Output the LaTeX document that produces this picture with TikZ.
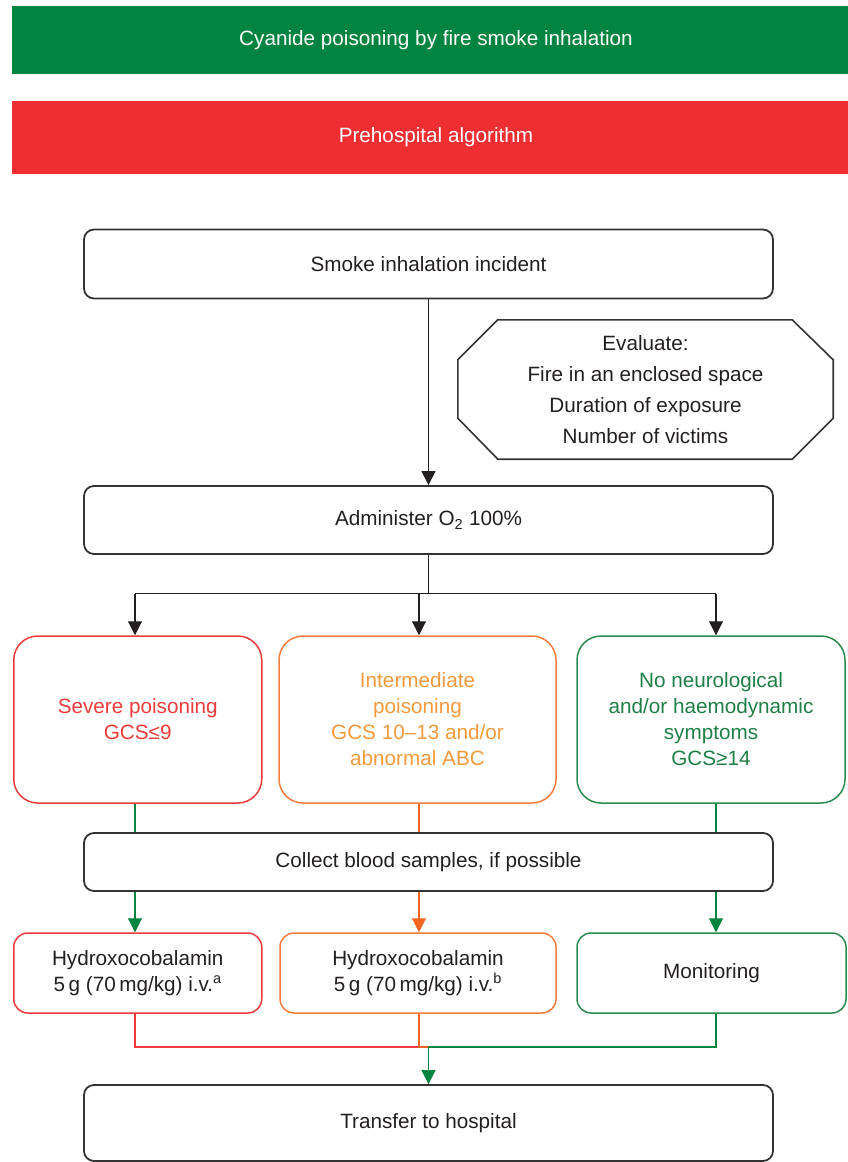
\documentclass[tikz,border=0pt]{standalone}
\usepackage{fontspec}
\setmainfont{Liberation Sans}
\usetikzlibrary{arrows.meta,calc}
\definecolor{bgreen}{HTML}{00843F}
\definecolor{bred}{HTML}{EE2E31}
\definecolor{rline}{HTML}{EE3B3B}
\definecolor{rtext}{HTML}{EE3B3B}
\definecolor{obox}{HTML}{F47D3E}
\definecolor{otext}{HTML}{F49A3C}
\definecolor{oline}{HTML}{F26522}
\definecolor{gbox}{HTML}{2B8A4E}
\definecolor{gtext}{HTML}{1F7F47}
\definecolor{gline}{HTML}{00843F}
\definecolor{boxgray}{HTML}{333333}
\definecolor{txt}{HTML}{231F20}
\tikzset{
  base/.style={font=\fontsize{20.7}{26}\selectfont, align=center, inner sep=0pt},
  banner/.style={base, minimum width=848pt, text=white},
  blackbox/.style={base, draw=boxgray, line width=1.8pt, rounded corners=10pt, text=txt},
  catbox/.style={base, line width=1.5pt, rounded corners=24pt, minimum width=248pt, minimum height=167pt},
  medbox/.style={base, line width=1.5pt, rounded corners=14pt, minimum width=248pt, minimum height=80pt},
  conn/.style={line width=1.1pt},
  tip/.style={-{Triangle[width=14pt,length=14pt]}},
}
\begin{document}
\begin{tikzpicture}[x=1pt,y=-1pt]
\useasboundingbox (0,0) rectangle (847,1162);
% banners
\node[banner, fill=bgreen, minimum height=68pt] (title) at (436,40) {Cyanide poisoning by fire smoke inhalation};
\node[banner, fill=bred, minimum height=73pt] (sub) at (436,137.5) {Prehospital algorithm};
% main boxes
\node[blackbox, minimum width=689pt, minimum height=69pt] (smoke) at (428.5,264) {Smoke inhalation incident};
\node[base, text=txt, minimum width=375pt, minimum height=139pt, font=\fontsize{20.7}{31}\selectfont] (eval) at (645.5,389.5)
  {Evaluate:\\Fire in an enclosed space\\Duration of exposure\\Number of victims};
\draw[draw=boxgray, line width=1.6pt]
  ([xshift=40pt]eval.north west) -- ([xshift=-41pt]eval.north east) -- ([yshift=-40pt]eval.north east)
  -- ([yshift=41pt]eval.south east) -- ([xshift=-41pt]eval.south east) -- ([xshift=40pt]eval.south west)
  -- ([yshift=41pt]eval.south west) -- ([yshift=-40pt]eval.north west) -- cycle;
\node[blackbox, minimum width=689pt, minimum height=68pt] (admin) at (428.5,520) {Administer O\textsubscript{2} 100\%};
% category boxes
\node[catbox, draw=rline, text=rtext] (severe) at (137.75,719.5) {Severe poisoning\\GCS≤9};
\node[catbox, draw=obox, text=otext, minimum width=277pt] (inter) at (417.5,719.5) {Intermediate\\poisoning\\GCS 10–13 and/or\\abnormal ABC};
\node[catbox, draw=gbox, text=gtext, minimum width=268pt] (none) at (711,719.5) {No neurological\\and/or haemodynamic\\symptoms\\GCS≥14};
% collect
\node[blackbox, minimum width=689pt, minimum height=58pt] (collect) at (428.5,862) {Collect blood samples, if possible};
% treatment boxes
\node[medbox, draw=rline, text=txt] (hydroA) at (137.75,973) {Hydroxocobalamin\\5\,g (70\,mg/kg) i.v.\textsuperscript{a}};
\node[medbox, draw=obox, text=txt, minimum width=276pt] (hydroB) at (418,973) {Hydroxocobalamin\\5\,g (70\,mg/kg) i.v.\textsuperscript{b}};
\node[medbox, draw=gbox, text=txt, minimum width=269pt] (monitor) at (711.5,973) {Monitoring};
% transfer
\node[blackbox, minimum width=689pt, minimum height=76pt] (transfer) at (428.5,1123) {Transfer to hospital};
% column coordinates
\coordinate (c1) at (135,0);
\coordinate (c2) at (419,0);
\coordinate (c3) at (716,0);
% connectors
\draw[conn, draw=txt, tip] (smoke.south) -- (admin.north);
\draw[conn, draw=txt] (admin.south) -- ++(0,39) coordinate (split);
\draw[conn, draw=txt] (c1 |- split) -- (c3 |- split);
\draw[conn, draw=txt, tip] (c1 |- split) -- (c1 |- severe.north);
\draw[conn, draw=txt, tip] (c2 |- split) -- (c2 |- inter.north);
\draw[conn, draw=txt, tip] (c3 |- split) -- (c3 |- none.north);
\draw[conn, draw=gline] (c1 |- severe.south) -- (c1 |- collect.north);
\draw[conn, draw=oline] (c2 |- inter.south) -- (c2 |- collect.north);
\draw[conn, draw=gline] (c3 |- none.south) -- (c3 |- collect.north);
\draw[conn, draw=gline, tip] (c1 |- collect.south) -- (c1 |- hydroA.north);
\draw[conn, draw=oline, tip] (c2 |- collect.south) -- (c2 |- hydroB.north);
\draw[conn, draw=gline, tip] (c3 |- collect.south) -- (c3 |- monitor.north);
\coordinate (m) at (0,1047);
\draw[conn, draw=rline] (c1 |- hydroA.south) -- (c1 |- m) -- (c2 |- m);
\draw[conn, draw=oline] (c2 |- hydroB.south) -- (c2 |- m) -- (transfer.north |- m);
\draw[conn, draw=gline] (c3 |- monitor.south) -- (c3 |- m) -- (transfer.north |- m);
\draw[conn, draw=gline, tip] (transfer.north |- m) -- (transfer.north);
\end{tikzpicture}
\end{document}
